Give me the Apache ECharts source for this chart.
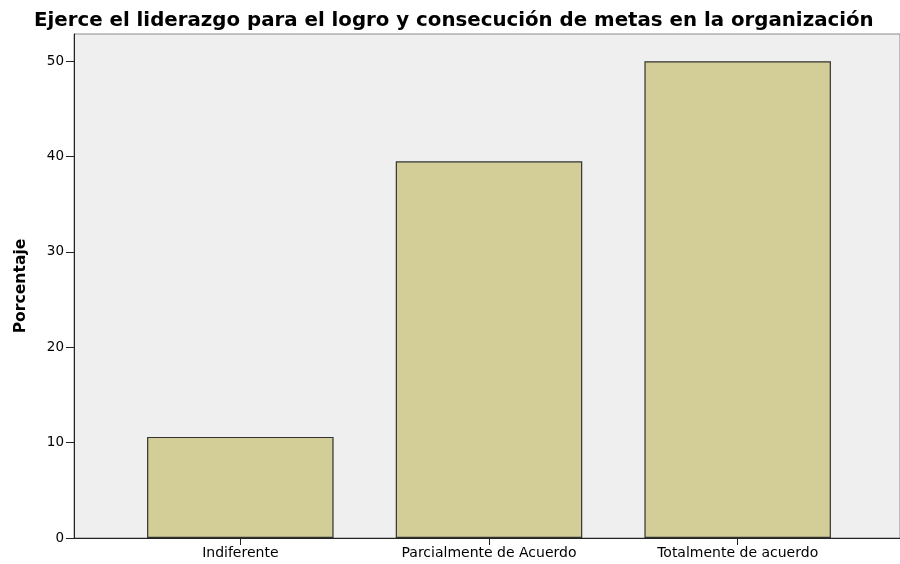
<!DOCTYPE html>
<html>
<head>
<meta charset="utf-8">
<script src="https://cdn.jsdelivr.net/npm/echarts@6/dist/echarts.min.js"></script>
<style>
html,body{margin:0;padding:0;background:#fff;}
#main{width:900px;height:564px;}
</style>
</head>
<body>
<div id="main"></div>
<script>
const titleText = 'Ejerce el liderazgo para el logro y consecución de metas en la organización';
const yAxisName = 'Porcentaje';
const categories = ['Indiferente', 'Parcialmente de Acuerdo', 'Totalmente de acuerdo'];
const percentages = [10.6, 39.5, 50.0];
const yTicks = [0, 10, 20, 30, 40, 50];

const Y_MAX = 52.85;
const chart = echarts.init(document.getElementById('main'), null, {renderer: 'canvas'});
const option = {
  backgroundColor: '#ffffff',
  animation: false,
  title: {
    text: titleText,
    left: 29,
    top: 6,
    textStyle: {fontFamily: 'DejaVu Sans', fontWeight: 'bold', fontSize: 19.8, color: '#000'}
  },
  grid: [
    {left: 74, width: 832, top: 34, bottom: 26, show: true, backgroundColor: '#efefef', borderColor: '#8a8a8a', borderWidth: 1, containLabel: false},
    {left: 116, width: 746, top: 34, bottom: 26, show: false, containLabel: false}
  ],
  xAxis: [
    {gridIndex: 0, type: 'value', min: 0, max: 1,
      axisLine: {show: true, onZero: false, lineStyle: {color: '#222', width: 1}},
      axisTick: {show: false}, axisLabel: {show: false}, splitLine: {show: false}},
    {gridIndex: 1, type: 'category', data: categories,
      axisLine: {show: false},
      axisTick: {show: true, alignWithLabel: true, length: 7, lineStyle: {color: '#222'}},
      axisLabel: {fontFamily: 'DejaVu Sans', fontSize: 14, color: '#000', margin: 8},
      splitLine: {show: false}}
  ],
  yAxis: [
    {gridIndex: 0, type: 'value', min: 0, max: Y_MAX,
      name: yAxisName, nameLocation: 'middle', nameGap: 45, nameRotate: 90,
      nameTextStyle: {fontFamily: 'DejaVu Sans', fontWeight: 'bold', fontSize: 15.6, color: '#000'},
      axisLine: {show: true, lineStyle: {color: '#222', width: 1}},
      axisTick: {show: true, length: 8, customValues: yTicks, lineStyle: {color: '#222'}},
      axisLabel: {customValues: yTicks, fontFamily: 'DejaVu Sans', fontSize: 13.5, color: '#000', margin: 10},
      splitLine: {show: false}},
    {gridIndex: 1, type: 'value', min: 0, max: Y_MAX, show: false, splitLine: {show: false}}
  ],
  series: [{
    type: 'bar',
    xAxisIndex: 1, yAxisIndex: 1,
    data: percentages,
    barWidth: '75%',
    itemStyle: {color: '#d3ce97', borderColor: '#333', borderWidth: 1.2}
  }]
};
chart.setOption(option);
</script>
</body>
</html>
